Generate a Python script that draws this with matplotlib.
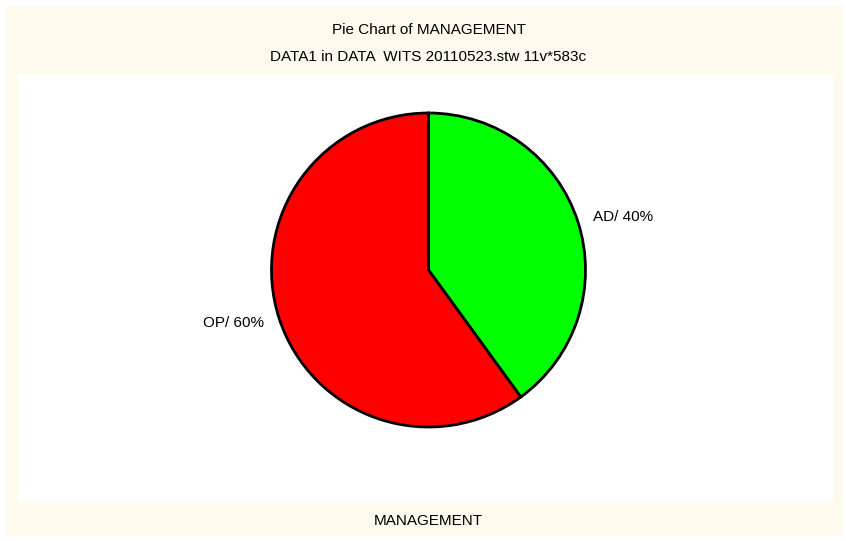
import matplotlib
matplotlib.use("Agg")
import matplotlib.pyplot as plt
from matplotlib.patches import Rectangle

categories = ["AD", "OP"]
shares = [40, 60]
colors = ["#00FF00", "#FF0000"]
title = "Pie Chart of MANAGEMENT"
subtitle = "DATA1 in DATA  WITS 20110523.stw 11v*583c"
xlabel = "MANAGEMENT"

plt.rcParams['font.family'] = ['Liberation Sans', 'DejaVu Sans']

W, H = 846, 541
fig = plt.figure(figsize=(W / 100, H / 100), dpi=100)
fig.patch.set_facecolor("white")

# cream outer panel and white plot area (pixel coords -> figure fraction)
def px_rect(x0, y0, x1, y1, color):
    return Rectangle((x0 / W, 1 - y1 / H), (x1 - x0) / W, (y1 - y0) / H,
                     transform=fig.transFigure, facecolor=color,
                     edgecolor="none", zorder=-10)

fig.patches.append(px_rect(6, 6, 843, 536, "#FFF9EE"))
fig.patches.append(px_rect(18, 74, 833, 503, "white"))

# pie axes: centre (428.5, 270), radius 157 px
cx, cy, r = 428.5, 270, 157
ax = fig.add_axes([(cx - r) / W, 1 - (cy + r) / H, 2 * r / W, 2 * r / H])
ax.set_axis_off()
ax.set_zorder(5)
labels = [f"{c}/ {s}%" for c, s in zip(categories, shares)]
wedges, texts = ax.pie(shares, colors=colors, labels=labels, startangle=90,
                       counterclock=False, labeldistance=1.1,
                       wedgeprops=dict(edgecolor="black", linewidth=2),
                       textprops=dict(fontsize=11, color="black"))
ax.set_xlim(-1, 1)
ax.set_ylim(-1, 1)

fig.text(428.5 / W, 1 - 30 / H, title, ha="center", va="center", fontsize=11)
fig.text(428.5 / W, 1 - 57 / H, subtitle, ha="center", va="center", fontsize=11)
fig.text(428.5 / W, 1 - 521 / H, xlabel, ha="center", va="center", fontsize=11)

fig.savefig("out.png", dpi=100)
